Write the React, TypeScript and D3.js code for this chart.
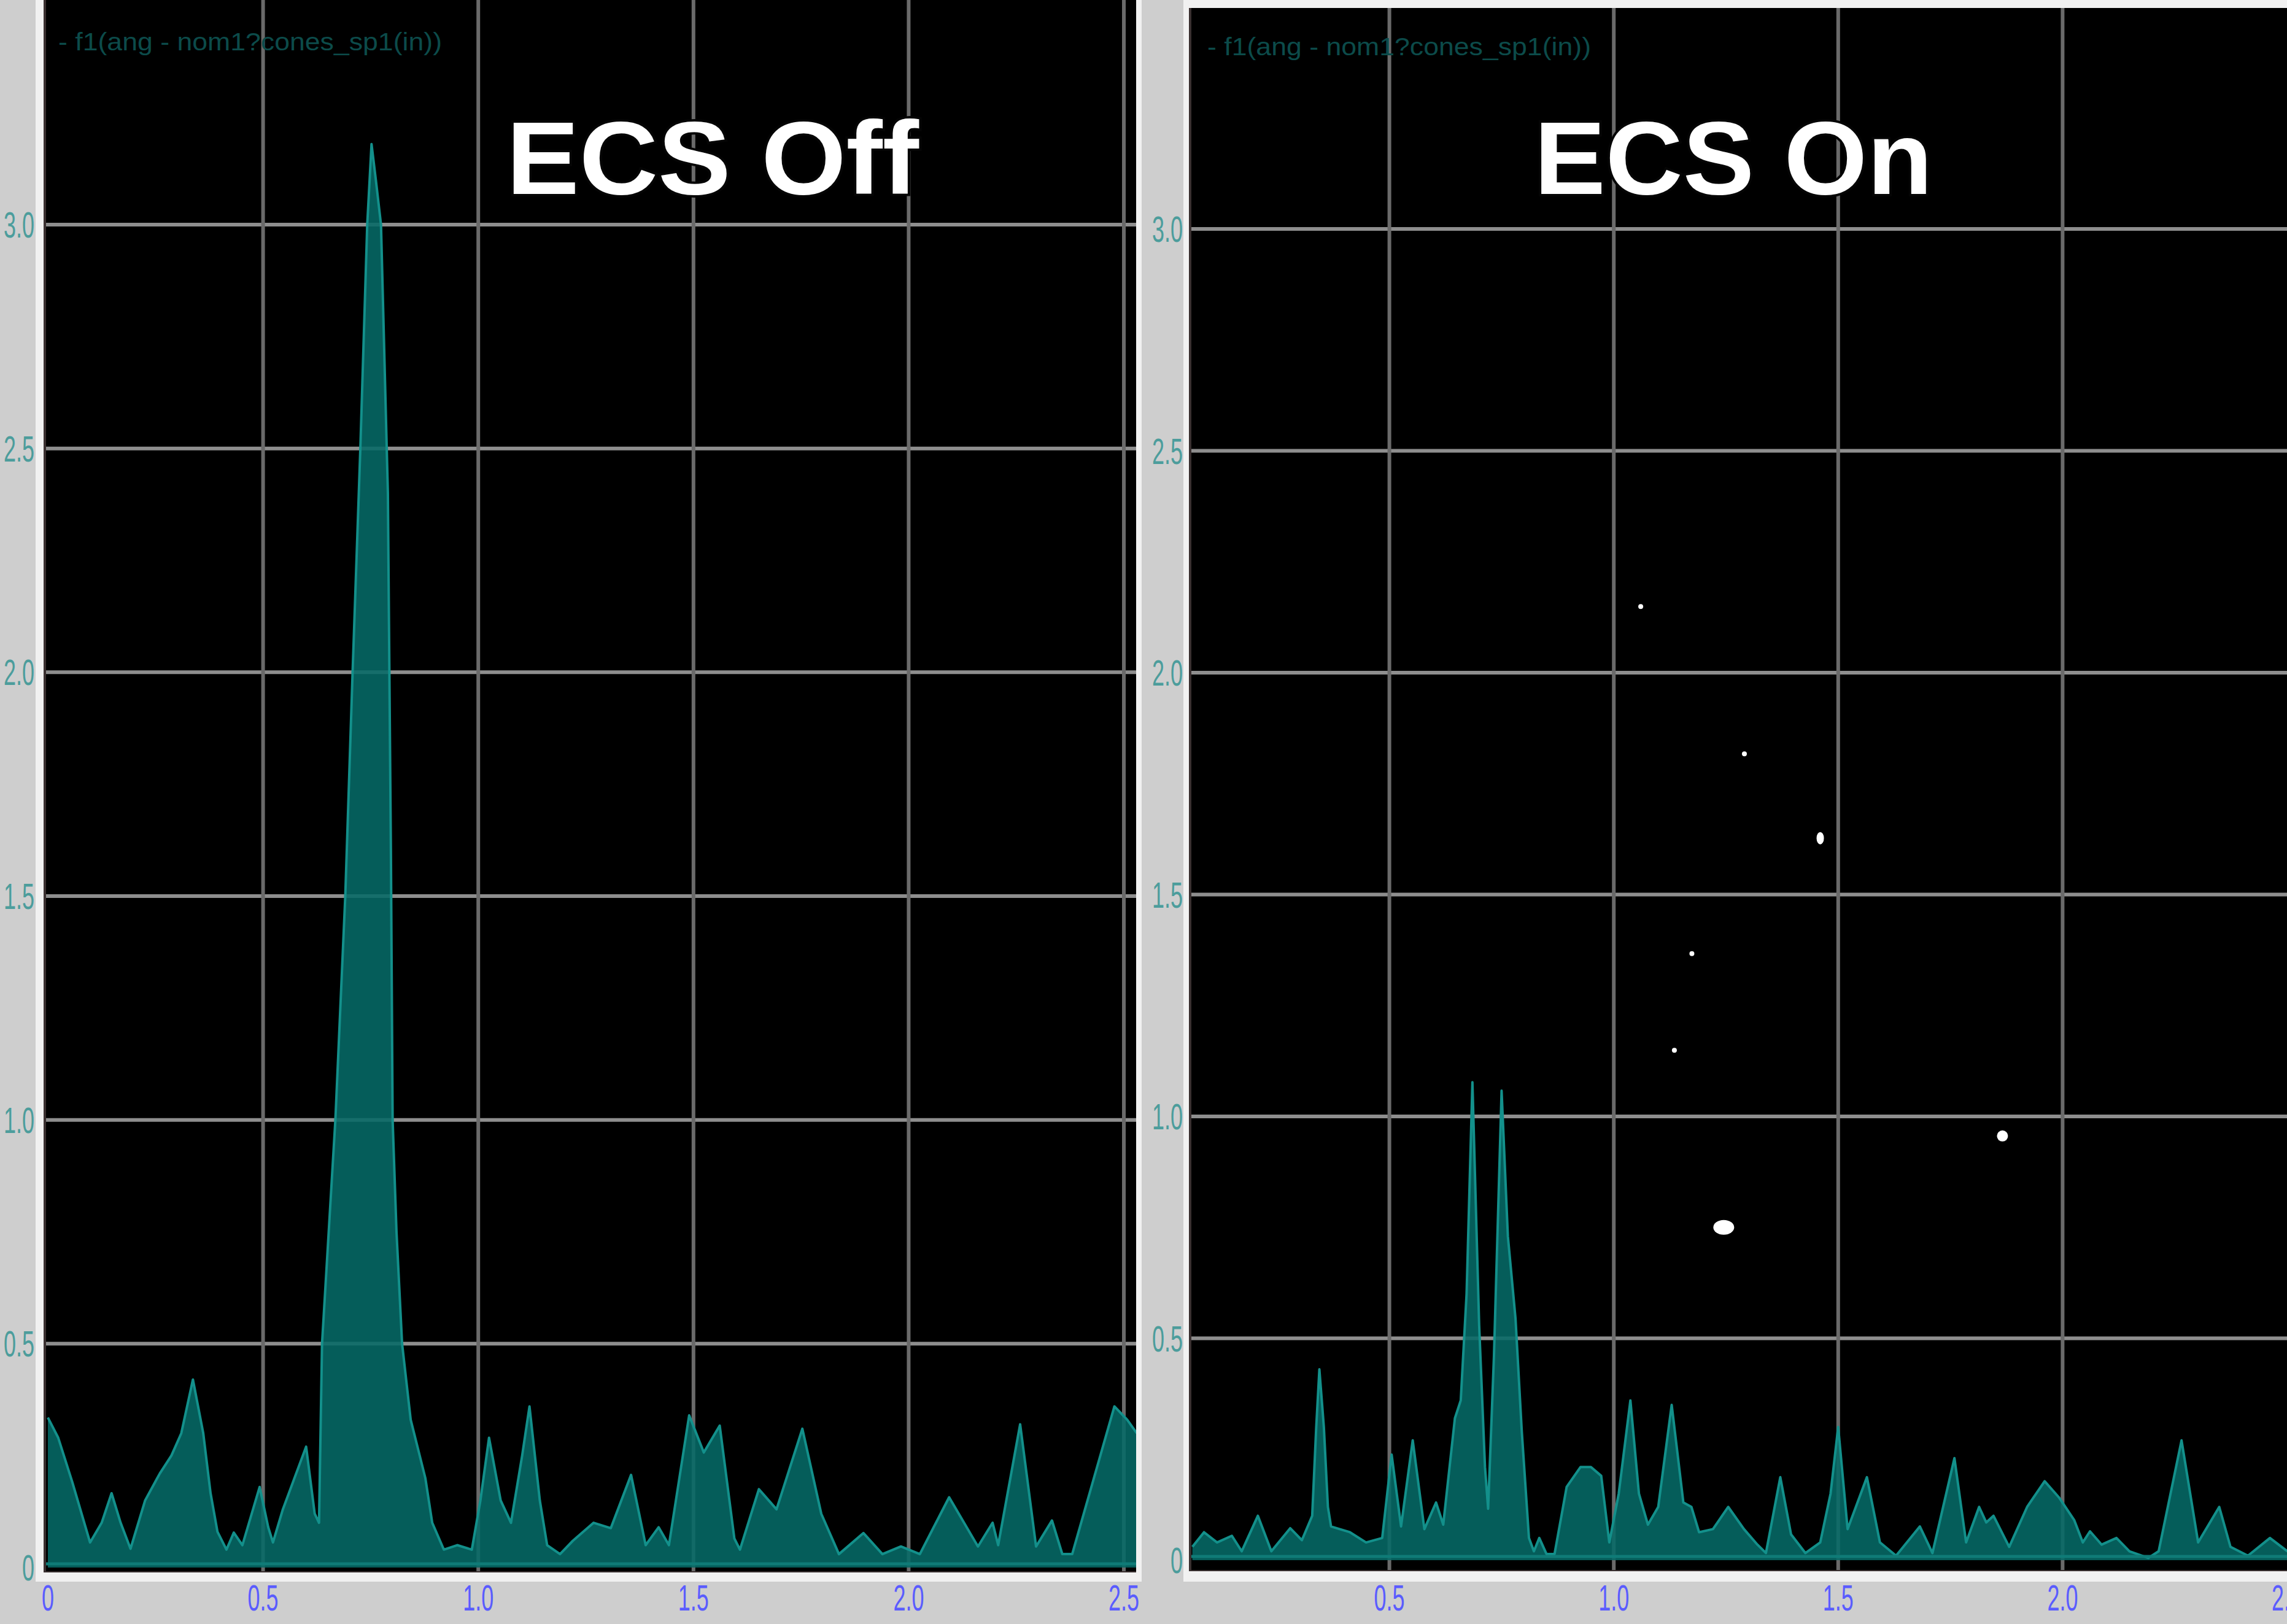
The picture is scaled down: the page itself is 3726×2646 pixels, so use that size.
import React from "react";
import * as d3 from "d3";

// ---------- DATA ----------
// ECS Off spectrum (frequency, amplitude)
const offFreq = [
  0.0, 0.024, 0.057, 0.098, 0.125, 0.148, 0.169, 0.192, 0.226, 0.26, 0.287, 0.31, 0.337, 0.361,
  0.378, 0.394, 0.415, 0.432, 0.452, 0.492, 0.512, 0.523, 0.546, 0.573, 0.6, 0.62, 0.63, 0.637,
  0.668, 0.691, 0.708, 0.726, 0.742, 0.752, 0.762, 0.774, 0.79, 0.797, 0.801, 0.81, 0.823, 0.843,
  0.877, 0.893, 0.92, 0.951, 0.985, 1.005, 1.025, 1.052, 1.076, 1.102, 1.119, 1.143, 1.16, 1.19,
  1.22, 1.268, 1.308, 1.355, 1.389, 1.419, 1.443, 1.49, 1.524, 1.561, 1.595, 1.608, 1.652, 1.693,
  1.753, 1.797, 1.838, 1.895, 1.939, 1.982, 2.026, 2.094, 2.161, 2.195, 2.208, 2.259, 2.296, 2.333,
  2.357, 2.38, 2.478, 2.508, 2.53,
];
const offAmp = [
  0.335, 0.29, 0.19, 0.056, 0.1, 0.166, 0.1, 0.042, 0.15, 0.21, 0.25, 0.3, 0.42, 0.3,
  0.166, 0.08, 0.04, 0.078, 0.05, 0.18, 0.09, 0.056, 0.13, 0.2, 0.27, 0.12, 0.1, 0.5,
  1.0, 1.5, 2.0, 2.5, 3.0, 3.18, 3.1, 3.0, 2.4, 1.6, 1.0, 0.75, 0.5, 0.33,
  0.2, 0.1, 0.04, 0.05, 0.04, 0.15, 0.29, 0.15, 0.1, 0.25, 0.36, 0.15, 0.05, 0.03,
  0.06, 0.1, 0.088, 0.207, 0.05, 0.09, 0.05, 0.34, 0.257, 0.317, 0.065, 0.04, 0.175, 0.13,
  0.31, 0.12, 0.03, 0.077, 0.03, 0.047, 0.03, 0.157, 0.047, 0.1, 0.05, 0.32, 0.047, 0.105,
  0.03, 0.03, 0.36, 0.33, 0.3,
];

// ECS On spectrum (frequency, amplitude)
const onFreq = [
  0.061, 0.087, 0.116, 0.149, 0.171, 0.207, 0.237, 0.279, 0.305, 0.328, 0.337, 0.344, 0.354, 0.363,
  0.37, 0.412, 0.448, 0.484, 0.505, 0.526, 0.552, 0.578, 0.604, 0.62, 0.646, 0.659, 0.672, 0.685,
  0.7, 0.713, 0.72, 0.733, 0.75, 0.764, 0.781, 0.795, 0.811, 0.822, 0.834, 0.85, 0.868, 0.895,
  0.926, 0.949, 0.972, 0.99, 1.011, 1.037, 1.056, 1.076, 1.099, 1.129, 1.155, 1.173, 1.19, 1.221,
  1.255, 1.29, 1.32, 1.339, 1.371, 1.395, 1.427, 1.46, 1.483, 1.5, 1.521, 1.564, 1.593, 1.629,
  1.682, 1.71, 1.759, 1.785, 1.814, 1.83, 1.846, 1.881, 1.921, 1.96, 1.993, 2.026, 2.045, 2.061,
  2.087, 2.12, 2.149, 2.191, 2.214, 2.265, 2.302, 2.349, 2.374, 2.413, 2.462, 2.501,
];
const onAmp = [
  0.03, 0.063, 0.04, 0.055, 0.02, 0.1, 0.02, 0.072, 0.045, 0.1, 0.3, 0.43, 0.3, 0.12,
  0.076, 0.063, 0.04, 0.05, 0.238, 0.076, 0.27, 0.07, 0.13, 0.08, 0.32, 0.36, 0.6, 1.077,
  0.53, 0.21, 0.116, 0.46, 1.058, 0.73, 0.545, 0.29, 0.05, 0.02, 0.05, 0.014, 0.014, 0.165,
  0.21, 0.21, 0.19, 0.04, 0.15, 0.36, 0.15, 0.08, 0.12, 0.35, 0.13, 0.12, 0.063, 0.07,
  0.12, 0.07, 0.035, 0.016, 0.187, 0.058, 0.016, 0.04, 0.15, 0.3, 0.07, 0.187, 0.04, 0.01,
  0.076, 0.016, 0.23, 0.04, 0.12, 0.085, 0.1, 0.03, 0.12, 0.178, 0.14, 0.09, 0.04, 0.065,
  0.035, 0.05, 0.02, 0.005, 0.02, 0.27, 0.04, 0.12, 0.03, 0.01, 0.05, 0.02,
];

// White specks on the ECS On panel
const dotFreq = [1.06, 1.291, 1.46, 1.174, 1.135, 1.245, 1.866];
const dotAmp = [2.149, 1.817, 1.627, 1.367, 1.149, 0.75, 0.956];

const yTickValues = [0, 0.5, 1, 1.5, 2, 2.5, 3];
const yTickLabels = ["0", "0.5", "1.0", "1.5", "2.0", "2.5", "3.0"];
const xTickValues = [0, 0.5, 1, 1.5, 2, 2.5];
const xTickLabels = ["0", "0.5", "1.0", "1.5", "2.0", "2.5"];
const panelTitles = ["ECS Off", "ECS On"];
const legendText = "- f1(ang - nom1?cones_sp1(in))";

// ---------- STYLE / LAYOUT ----------
const W = 3726;
const H = 2646;
const FONT = "'Liberation Sans', Arial, Helvetica, sans-serif";
const dotRx = [4, 4, 6, 4, 4, 17, 9];
const dotRy = [4, 4, 10, 4, 4, 12, 9];

const panels = [
  {
    id: "off",
    frame: { x: 58, y: 0, w: 1802, h: 2577 },
    plot: { x: 75, y: 0, w: 1776, h: 2560 },
    xs: d3.scaleLinear().domain([0, 2.5]).range([78, 1831]),
    ys: d3.scaleLinear().domain([0, 3]).range([2554, 366]),
    freq: offFreq,
    amp: offAmp,
    title: panelTitles[0],
    titleX: 1161,
    titleLen: 672,
    legendX: 95,
    legendY: 82,
    yLabelX: 56,
    dots: false,
  },
  {
    id: "on",
    frame: { x: 1928, y: 0, w: 1798, h: 2577 },
    plot: { x: 1941, y: 13, w: 1785, h: 2545 },
    xs: d3.scaleLinear().domain([0, 2.5]).range([1898, 3726]),
    ys: d3.scaleLinear().domain([0, 3]).range([2542, 373]),
    freq: onFreq,
    amp: onAmp,
    title: panelTitles[1],
    titleX: 2824,
    titleLen: 649,
    legendX: 1967,
    legendY: 90,
    yLabelX: 1927,
    dots: true,
  },
];

function Panel({ p }: { p: (typeof panels)[number] }) {
  const { xs, ys, plot, frame } = p;
  const pts: [number, number][] = p.freq.map((f, i) => [f, p.amp[i]]);
  const area = d3
    .area<[number, number]>()
    .x((d) => xs(d[0]))
    .y0(ys(0))
    .y1((d) => ys(d[1]))
    .curve(d3.curveLinear);
  const line = d3
    .line<[number, number]>()
    .x((d) => xs(d[0]))
    .y((d) => ys(d[1]))
    .curve(d3.curveLinear);
  const clipId = `clip-${p.id}`;
  const xMin = plot.x + 4;
  const xMax = plot.x + plot.w - 4;
  const vGrid = xTickValues.filter((v) => xs(v) > xMin && xs(v) < xMax);
  const hGrid = yTickValues.filter((v) => v > 0);
  const xLabels = xTickValues
    .map((v, i) => ({ v, t: xTickLabels[i] }))
    .filter((d) => xs(d.v) >= plot.x - 5);

  return (
    <g>
      {/* sunken frame */}
      <rect x={frame.x} y={frame.y} width={frame.w} height={frame.h} fill="#f1f1f1" />
      <rect x={plot.x - 4} y={plot.y} width={plot.w + 4} height={plot.h + 2} fill="#3a3030" />
      <rect x={plot.x} y={plot.y} width={plot.w} height={plot.h} fill="#000000" />
      <defs>
        <clipPath id={clipId}>
          <rect x={plot.x} y={plot.y} width={plot.w} height={plot.h} />
        </clipPath>
      </defs>
      <g clipPath={`url(#${clipId})`}>
        {hGrid.map((v) => (
          <line key={`h${v}`} x1={plot.x} x2={plot.x + plot.w} y1={ys(v)} y2={ys(v)} stroke="#8e8e8e" strokeWidth={6} />
        ))}
        {vGrid.map((v) => (
          <line key={`v${v}`} x1={xs(v)} x2={xs(v)} y1={plot.y} y2={plot.y + plot.h} stroke="#6a6a6a" strokeWidth={6} />
        ))}
        <path d={area(pts) || ""} fill="#066a67" fillOpacity={0.88} />
        <path d={line(pts) || ""} fill="none" stroke="#13908b" strokeWidth={4} strokeLinejoin="round" />
        <line x1={plot.x} x2={plot.x + plot.w} y1={ys(0) - 6} y2={ys(0) - 6} stroke="#0f7b77" strokeWidth={5} />
        {p.dots &&
          dotFreq.map((f, i) => (
            <ellipse key={`d${i}`} cx={xs(f)} cy={ys(dotAmp[i])} rx={dotRx[i]} ry={dotRy[i]} fill="#ffffff" />
          ))}
        <text
          x={p.legendX}
          y={p.legendY}
          fontFamily={FONT}
          fontSize={40}
          fill="#0c4b4a"
          textLength={625}
          lengthAdjust="spacingAndGlyphs"
        >
          {legendText}
        </text>
        <text
          x={p.titleX}
          y={316}
          textAnchor="middle"
          fontFamily={FONT}
          fontWeight="bold"
          fontSize={168}
          fill="#ffffff"
          stroke="#050505"
          strokeWidth={8}
          paintOrder="stroke"
          textLength={p.titleLen}
          lengthAdjust="spacingAndGlyphs"
        >
          {p.title}
        </text>
      </g>
      {/* y tick labels */}
      {yTickValues.map((v, i) => (
        <text
          key={`yl${v}`}
          transform={`translate(${p.yLabelX},${ys(v) + 21}) scale(0.6,1)`}
          textAnchor="end"
          fontFamily={FONT}
          fontSize={60}
          fill="#4c9d9c"
        >
          {yTickLabels[i]}
        </text>
      ))}
      {/* x tick labels */}
      {xLabels.map((d) => (
        <text
          key={`xl${d.v}`}
          transform={`translate(${xs(d.v)},${2624}) scale(0.6,1)`}
          textAnchor="middle"
          fontFamily={FONT}
          fontSize={60}
          fill="#5a5cff"
        >
          {d.t}
        </text>
      ))}
    </g>
  );
}

export default function App() {
  return (
    <svg
      width={W}
      height={H}
      viewBox={`0 0 ${W} ${H}`}
      style={{ position: "absolute", left: 0, top: 0, display: "block" }}
    >
      <rect x={0} y={0} width={W} height={H} fill="#cecece" />
      {panels.map((p) => (
        <Panel key={p.id} p={p} />
      ))}
    </svg>
  );
}
